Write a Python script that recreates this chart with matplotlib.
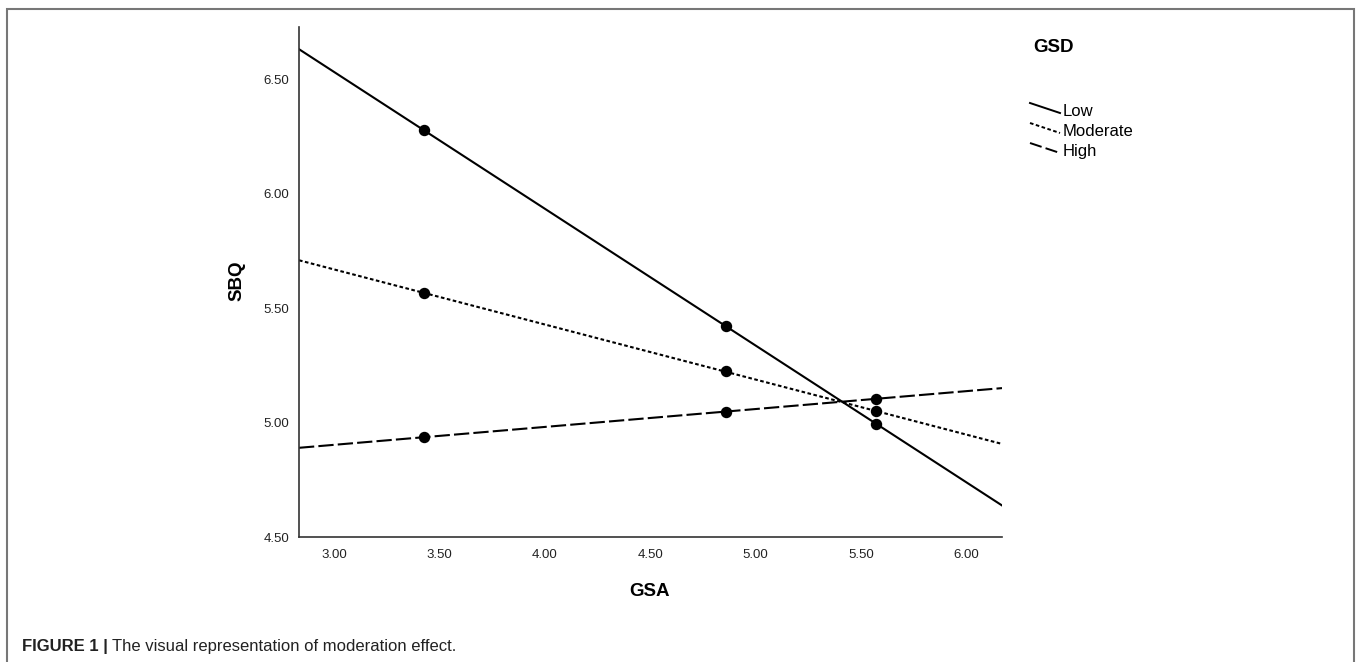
import matplotlib
matplotlib.use("Agg")
import matplotlib.pyplot as plt
from matplotlib.lines import Line2D
from matplotlib.patches import Rectangle
from matplotlib.ticker import FormatStrFormatter

plt.rcParams['font.family'] = ['Liberation Sans', 'DejaVu Sans']
plt.rcParams['lines.scale_dashes'] = False

# data
groups = ["Low", "Moderate", "High"]
gsa_points = [3.427, 4.859, 5.572]
sbq_low = [6.278, 5.424, 4.996]
sbq_moderate = [5.567, 5.224, 5.051]
sbq_high = [4.936, 5.048, 5.104]

# fitted lines, value at the left and right edge of the x range
gsa_range = [2.834, 6.17]
line_low = [6.633, 4.638]
line_moderate = [5.710, 4.907]
line_high = [4.890, 5.151]

xticks = [3.0, 3.5, 4.0, 4.5, 5.0, 5.5, 6.0]
yticks = [4.5, 5.0, 5.5, 6.0, 6.5]

W, H = 1358, 662
dashes = {"Low": None, "Moderate": (2.6, 1.8), "High": (11, 3)}


def px(x, y):
    return x / W, 1 - y / H


fig = plt.figure(figsize=(W / 100, H / 100), dpi=100)
ax = fig.add_axes([299 / W, 1 - 537 / H, (1002 - 299) / W, (537 - 27) / H])

series = [(line_low, sbq_low), (line_moderate, sbq_moderate), (line_high, sbq_high)]
for name, (ln, pts) in zip(groups, series):
    l, = ax.plot(gsa_range, ln, color="black", lw=1.5)
    if dashes[name]:
        l.set_dashes(dashes[name])
    ax.plot(gsa_points, pts, "o", color="black", markersize=7.2, zorder=3)

ax.set_xlim(gsa_range)
ax.set_ylim(4.5, 6.73)
ax.set_xticks(xticks)
ax.set_yticks(yticks)
ax.xaxis.set_major_formatter(FormatStrFormatter("%.2f"))
ax.yaxis.set_major_formatter(FormatStrFormatter("%.2f"))
ax.tick_params(length=0, labelsize=9.5, colors="#222222")
ax.tick_params(axis="x", pad=9)
ax.tick_params(axis="y", pad=7)
for s in ["top", "right"]:
    ax.spines[s].set_visible(False)
for s in ["left", "bottom"]:
    ax.spines[s].set_color("#333333")
    ax.spines[s].set_linewidth(1.2)

# axis titles
fig.text(*px(650, 591), "GSA", ha="center", va="center", fontsize=13.5, fontweight="bold")
fig.text(*px(237, 281), "SBQ", ha="center", va="center", rotation=90, fontsize=13.5,
         fontweight="bold")

# legend
fig.text(*px(1033, 47), "GSD", ha="left", va="center", fontsize=13.5, fontweight="bold")
leg_y = [111, 131, 151]
for name, y in zip(groups, leg_y):
    x0, y0 = px(1030, y - 8)
    x1, y1 = px(1060, y + 2)
    h = Line2D([x0, x1], [y0, y1], color="black", lw=1.4, transform=fig.transFigure)
    if dashes[name]:
        h.set_dashes((dashes[name][0] * 0.8, dashes[name][1]) if name == "High" else dashes[name])
    fig.add_artist(h)
    fig.text(*px(1063, y), name, ha="left", va="center", fontsize=12)

# outer frame (open at the bottom)
frame = Rectangle(px(7, 720), (1354 - 7) / W, (720 - 9) / H, transform=fig.transFigure,
                  fill=False, edgecolor="#777777", lw=1.5, clip_on=False)
fig.add_artist(frame)

# caption
cx, cy = px(22, 646)
t = fig.text(cx, cy, "FIGURE 1 |", ha="left", va="center", fontsize=12, fontweight="bold",
             color="#222222")
fig.canvas.draw()
bb = t.get_window_extent()
fig.text(bb.x1 / W + 4 / W, cy, "The visual representation of moderation effect.",
         ha="left", va="center", fontsize=12, color="#222222")

fig.savefig("out.png", dpi=100)
